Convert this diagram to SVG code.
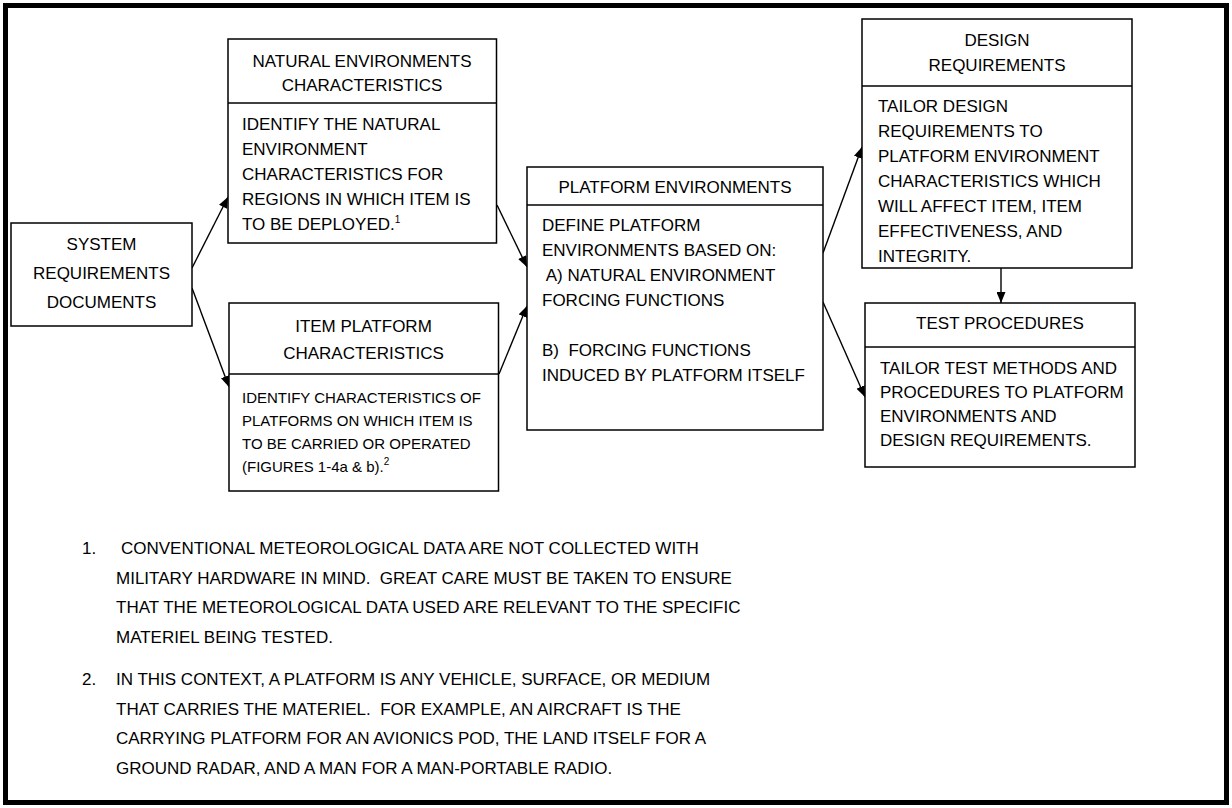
<svg xmlns="http://www.w3.org/2000/svg" width="1232" height="808" viewBox="0 0 1232 808">
<defs>
<style>
text{font-family:"Liberation Sans",Arial,sans-serif;font-size:17px;fill:#000}
.c{text-anchor:middle}
.s{font-size:15px}
.box{fill:#fff;stroke:#000;stroke-width:1.5}
.div{stroke:#000;stroke-width:1.5}
.con{stroke:#000;stroke-width:1.4;fill:none;marker-end:url(#ah)}
.sup{font-size:10px}
</style>
<marker id="ah" markerUnits="userSpaceOnUse" markerWidth="11" markerHeight="9" refX="11" refY="4.5" orient="auto">
<path d="M0,0 L11,4.5 L0,9 z" fill="#000"/>
</marker>
</defs>
<rect x="0" y="0" width="1232" height="808" fill="#fff"/>
<rect x="5.5" y="5.5" width="1221" height="797" fill="none" stroke="#000" stroke-width="5"/>

<g id="connectors">
<line class="con" x1="192" y1="268" x2="228" y2="197"/>
<line class="con" x1="192" y1="288" x2="229" y2="387"/>
<line class="con" x1="497" y1="205" x2="527" y2="267"/>
<line class="con" x1="499" y1="374" x2="527" y2="306"/>
<line class="con" x1="823" y1="253" x2="862" y2="147"/>
<line class="con" x1="823" y1="302" x2="865" y2="397"/>
<line class="con" x1="1001" y1="268" x2="1001" y2="303"/>
</g>

<g id="system">
<rect class="box" x="11" y="223" width="181" height="103"/>
<text class="c" x="101.5" y="250">SYSTEM</text>
<text class="c" x="101.5" y="279">REQUIREMENTS</text>
<text class="c" x="101.5" y="308">DOCUMENTS</text>
</g>

<g id="natural">
<rect class="box" x="228" y="39" width="268.5" height="204"/>
<line class="div" x1="228" y1="103" x2="496.5" y2="103"/>
<text class="c" x="362" y="67">NATURAL ENVIRONMENTS</text>
<text class="c" x="362" y="91">CHARACTERISTICS</text>
<text x="242" y="130">IDENTIFY THE NATURAL</text>
<text x="242" y="155">ENVIRONMENT</text>
<text x="242" y="180">CHARACTERISTICS FOR</text>
<text x="242" y="205">REGIONS IN WHICH ITEM IS</text>
<text x="242" y="230">TO BE DEPLOYED.<tspan class="sup" dy="-7">1</tspan></text>
</g>

<g id="item">
<rect class="box" x="229" y="303" width="269.5" height="188"/>
<line class="div" x1="229" y1="374" x2="498.5" y2="374"/>
<text class="c" x="363.5" y="332">ITEM PLATFORM</text>
<text class="c" x="363.5" y="359">CHARACTERISTICS</text>
<text class="s" x="242" y="402.5">IDENTIFY CHARACTERISTICS OF</text>
<text class="s" x="242" y="425.5">PLATFORMS ON WHICH ITEM IS</text>
<text class="s" x="242" y="448.5">TO BE CARRIED OR OPERATED</text>
<text class="s" x="242" y="471.5">(FIGURES 1-4a &amp; b).<tspan class="sup" dy="-7">2</tspan></text>
</g>

<g id="platform">
<rect class="box" x="527" y="167" width="296" height="263"/>
<line class="div" x1="527" y1="205" x2="823" y2="205"/>
<text class="c" x="675" y="193">PLATFORM ENVIRONMENTS</text>
<text x="542" y="231">DEFINE PLATFORM</text>
<text x="542" y="256">ENVIRONMENTS BASED ON:</text>
<text x="542" y="281" xml:space="preserve"> A) NATURAL ENVIRONMENT</text>
<text x="542" y="306">FORCING FUNCTIONS</text>
<text x="542" y="356" xml:space="preserve">B)  FORCING FUNCTIONS</text>
<text x="542" y="381">INDUCED BY PLATFORM ITSELF</text>
</g>

<g id="design">
<rect class="box" x="862" y="19" width="270" height="249"/>
<line class="div" x1="862" y1="86" x2="1132" y2="86"/>
<text class="c" x="997" y="46">DESIGN</text>
<text class="c" x="997" y="71">REQUIREMENTS</text>
<text x="878" y="112">TAILOR DESIGN</text>
<text x="878" y="137">REQUIREMENTS TO</text>
<text x="878" y="162">PLATFORM ENVIRONMENT</text>
<text x="878" y="187">CHARACTERISTICS WHICH</text>
<text x="878" y="212">WILL AFFECT ITEM, ITEM</text>
<text x="878" y="237">EFFECTIVENESS, AND</text>
<text x="878" y="262">INTEGRITY.</text>
</g>

<g id="test">
<rect class="box" x="865" y="303" width="270" height="164"/>
<line class="div" x1="865" y1="347" x2="1135" y2="347"/>
<text class="c" x="1000" y="329">TEST PROCEDURES</text>
<text x="880" y="374">TAILOR TEST METHODS AND</text>
<text x="880" y="398">PROCEDURES TO PLATFORM</text>
<text x="880" y="422">ENVIRONMENTS AND</text>
<text x="880" y="446">DESIGN REQUIREMENTS.</text>
</g>

<g id="notes">
<text x="82" y="554">1.</text>
<text x="121" y="554">CONVENTIONAL METEOROLOGICAL DATA ARE NOT COLLECTED WITH</text>
<text x="116" y="583.5" xml:space="preserve">MILITARY HARDWARE IN MIND.  GREAT CARE MUST BE TAKEN TO ENSURE</text>
<text x="116" y="613">THAT THE METEOROLOGICAL DATA USED ARE RELEVANT TO THE SPECIFIC</text>
<text x="116" y="642.5">MATERIEL BEING TESTED.</text>
<text x="82" y="685">2.</text>
<text x="116" y="685">IN THIS CONTEXT, A PLATFORM IS ANY VEHICLE, SURFACE, OR MEDIUM</text>
<text x="116" y="714.5" xml:space="preserve">THAT CARRIES THE MATERIEL.  FOR EXAMPLE, AN AIRCRAFT IS THE</text>
<text x="116" y="744">CARRYING PLATFORM FOR AN AVIONICS POD, THE LAND ITSELF FOR A</text>
<text x="116" y="773.5">GROUND RADAR, AND A MAN FOR A MAN-PORTABLE RADIO.</text>
</g>
</svg>
